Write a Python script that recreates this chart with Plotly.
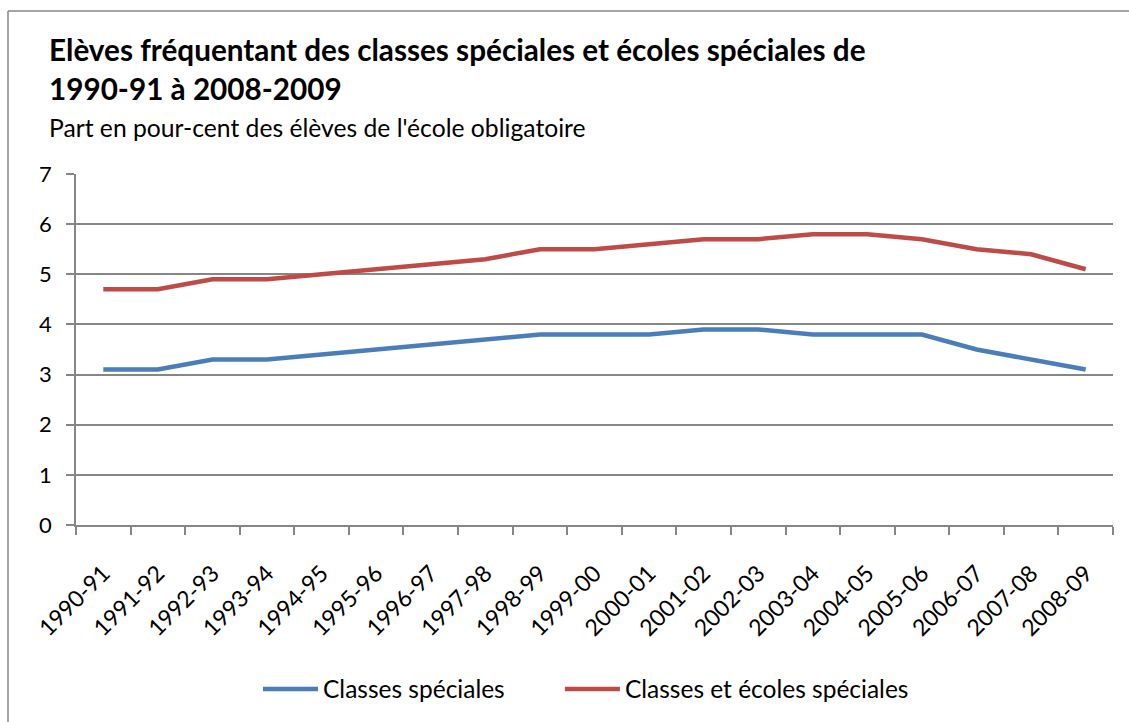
import plotly.graph_objects as go

categories = ["1990-91", "1991-92", "1992-93", "1993-94", "1994-95", "1995-96", "1996-97",
              "1997-98", "1998-99", "1999-00", "2000-01", "2001-02", "2002-03", "2003-04",
              "2004-05", "2005-06", "2006-07", "2007-08", "2008-09"]
classes_speciales = [3.1, 3.1, 3.3, 3.3, 3.4, 3.5, 3.6, 3.7, 3.8, 3.8, 3.8, 3.9, 3.9, 3.8,
                     3.8, 3.8, 3.5, 3.3, 3.1]
classes_ecoles_speciales = [4.7, 4.7, 4.9, 4.9, 5.0, 5.1, 5.2, 5.3, 5.5, 5.5, 5.6, 5.7, 5.7,
                            5.8, 5.8, 5.7, 5.5, 5.4, 5.1]
y_ticks = [0, 1, 2, 3, 4, 5, 6, 7]

FONT = "Lato"
W, H = 1129, 722
ml = 76
mr = W - 1113
mt = 174
mb = H - 525
pw, ph = W - ml - mr, H - mt - mb

def px(x):  # page x -> paper
    return (x - ml) / pw

def py(y):  # page y -> paper
    return (H - mb - y) / ph

PAD = "\u00a0" * 8  # spacing between legend entries

fig = go.Figure()
fig.add_trace(go.Scatter(x=categories, y=classes_speciales, mode="lines",
                         name="Classes spéciales" + PAD,
                         line=dict(color="#4A7EBB", width=4.5)))
fig.add_trace(go.Scatter(x=categories, y=classes_ecoles_speciales, mode="lines",
                         name="Classes et écoles spéciales",
                         line=dict(color="#BE4B48", width=4.5)))

fig.update_layout(
    width=W, height=H,
    margin=dict(l=ml, r=mr, t=mt, b=mb),
    paper_bgcolor="white", plot_bgcolor="white",
    font=dict(family=FONT, color="black"),
    showlegend=True,
    legend=dict(orientation="h", x=px(258), xanchor="left",
                yref="container", y=1 - 689 / H, yanchor="middle",
                font=dict(size=24.5, family=FONT), itemwidth=55, traceorder="normal"),
    xaxis=dict(type="category", tickson="boundaries", ticks="outside", ticklen=8,
               tickcolor="#868686", tickwidth=1.5, showline=True, linecolor="#868686",
               linewidth=1.5, showgrid=False, tickangle=-45, ticklabelstandoff=24,
               tickfont=dict(size=23, family=FONT), range=[-0.5, len(categories) - 0.5],
               automargin=False),
    yaxis=dict(range=[0, 7], tickvals=y_ticks, ticks="outside", ticklen=8,
               tickcolor="#868686", tickwidth=1.5, showline=True, linecolor="#868686",
               linewidth=1.5, showgrid=True, gridcolor="#868686", gridwidth=1.5,
               tickfont=dict(size=22, family=FONT), zeroline=False, ticklabelstandoff=10,
               automargin=False),
)

fig.add_annotation(text="<b>Elèves fréquentant des classes spéciales et écoles spéciales de</b>",
                   xref="paper", yref="paper", x=px(47), y=py(49), xanchor="left",
                   yanchor="middle", showarrow=False, font=dict(size=29.7, family=FONT))
fig.add_annotation(text="<b>1990-91 à 2008-2009</b>",
                   xref="paper", yref="paper", x=px(47), y=py(89), xanchor="left",
                   yanchor="middle", showarrow=False, font=dict(size=29.7, family=FONT))
fig.add_annotation(text="Part en pour-cent des élèves de l'école obligatoire",
                   xref="paper", yref="paper", x=px(47), y=py(128), xanchor="left",
                   yanchor="middle", showarrow=False, font=dict(size=24.7, family=FONT))

# outer chart border (left and top edges visible)
fig.add_shape(type="line", xref="paper", yref="paper", x0=px(8), x1=px(8), y0=py(722), y1=py(11),
              line=dict(color="#868686", width=1.5))
fig.add_shape(type="line", xref="paper", yref="paper", x0=px(8), x1=px(1129), y0=py(11), y1=py(11),
              line=dict(color="#868686", width=1.5))

fig.write_html("out.html", config={"displayModeBar": False},
               post_script="document.body.style.margin='0';document.body.style.overflow='hidden';")
